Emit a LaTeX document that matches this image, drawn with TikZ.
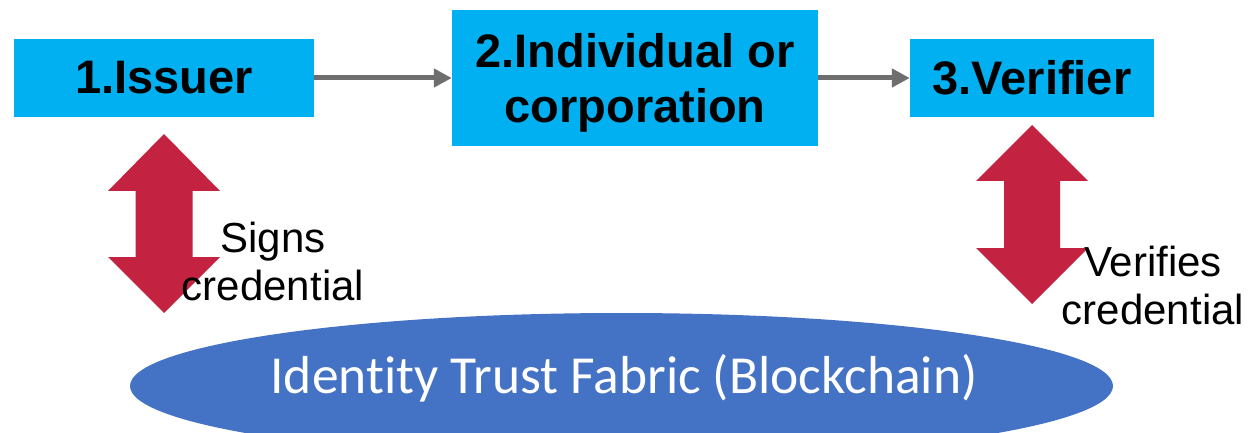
\documentclass[tikz,border=0pt]{standalone}
\usepackage{fontspec}
\setmainfont{Liberation Sans}
\newfontfamily\calib[Ligatures=NoCommon]{Carlito}
\usetikzlibrary{arrows.meta,shapes.geometric}
\definecolor{boxcyan}{HTML}{00B0F0}
\definecolor{fabricblue}{HTML}{4472C4}
\definecolor{crimson}{HTML}{C32340}
\definecolor{flowgray}{HTML}{6E6E6E}
\begin{document}
\begin{tikzpicture}[x=1pt,y=-1pt,
  rolebox/.style={fill=boxcyan, inner sep=0pt, align=center,
    font=\fontsize{47}{55}\selectfont\bfseries},
  flow/.style={draw=flowgray, line width=5pt, -{Triangle[length=18pt,width=18pt]}},
  bigarrow/.style={fill=crimson},
  lbl/.style={align=center, font=\fontsize{42}{48}\selectfont, inner sep=0pt}]
\useasboundingbox (0,0) rectangle (1251,433);
% ellipse
\begin{scope}
\clip (0,0) rectangle (1251,433);
\node[ellipse, fill=fabricblue, minimum width=983pt, minimum height=146pt, inner sep=0pt] (fabric) at (621.5,386) {};
\end{scope}
\node[anchor=base, text=white, font=\calib\fontsize{53.5}{60}\selectfont, inner sep=0pt] (fabrictext) at (624,393) {Identity Trust Fabric (Blockchain)};
% boxes
\node[rolebox, minimum width=300pt, minimum height=78pt] (issuer) at (164,78) {1.Issuer};
\node[rolebox, minimum width=366pt, minimum height=136pt, text depth=0pt] (holder) at (635,78) {2.Individual or\\corporation};
\node[rolebox, minimum width=244pt, minimum height=78pt] (verifier) at (1032,78) {3.Verifier};
% flow arrows
\draw[flow] (issuer.east) -- (holder.west);
\draw[flow] (holder.east |- verifier.west) -- (verifier.west);
% double arrows
\fill[bigarrow] (164,134) -- (220,191) -- (192.5,191) -- (192.5,257) -- (220,257) -- (164,313)
  -- (108,257) -- (135.5,257) -- (135.5,191) -- (108,191) -- cycle;
\fill[bigarrow] (1032,125) -- (1088,181) -- (1060,181) -- (1060,248) -- (1088,248) -- (1032,304)
  -- (976,248) -- (1004,248) -- (1004,181) -- (976,181) -- cycle;
% labels
\node[lbl, anchor=base] (signs) at (273,300) {Signs\\credential};
\node[lbl, anchor=base] (verifies) at (1153,324) {Verifies\\credential};
\end{tikzpicture}
\end{document}
